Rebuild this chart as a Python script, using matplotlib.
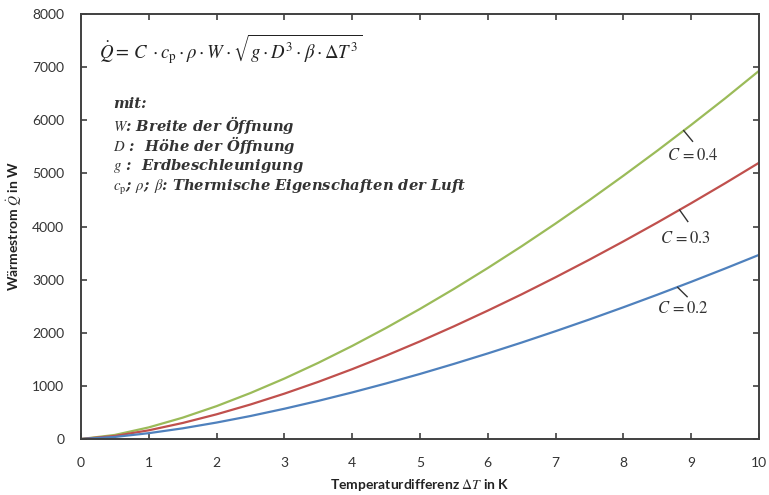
import matplotlib
matplotlib.use("Agg")
import matplotlib.pyplot as plt

dT = [0, 0.5, 1, 1.5, 2, 2.5, 3, 3.5, 4, 4.5, 5, 5.5, 6, 6.5, 7, 7.5, 8, 8.5, 9, 9.5, 10]
q_c04 = [0, 77, 219, 402, 619, 866, 1138, 1434, 1752, 2091, 2449, 2825, 3219, 3629, 4056, 4498, 4956, 5427, 5913, 6412, 6930]
q_c03 = [0, 58, 164, 302, 465, 650, 854, 1076, 1315, 1569, 1838, 2121, 2417, 2724, 3045, 3377, 3720, 4074, 4439, 4814, 5200]
q_c02 = [0, 39, 110, 201, 310, 433, 570, 718, 877, 1046, 1225, 1414, 1611, 1816, 2030, 2251, 2480, 2716, 2959, 3209, 3466]
x_ticks = [0, 1, 2, 3, 4, 5, 6, 7, 8, 9, 10]
y_ticks = [0, 1000, 2000, 3000, 4000, 5000, 6000, 7000, 8000]

plt.rcParams['mathtext.fontset'] = 'stix'
plt.rcParams['font.family'] = ['Lato', 'DejaVu Sans']

fig = plt.figure(figsize=(7.69, 4.95), dpi=100)
ax = fig.add_axes([0.1053, 0.1131, 0.8817, 0.8586])

ax.plot(dT, q_c04, color='#9BBB59', lw=1.6)
ax.plot(dT, q_c03, color='#C0504D', lw=1.6)
ax.plot(dT, q_c02, color='#4F81BD', lw=1.6)

ax.set_xlim(0, 10)
ax.set_ylim(0, 8000)
ax.set_xticks(x_ticks)
ax.set_yticks(y_ticks)
ax.tick_params(direction='in', top=True, right=True, length=4, width=1.2,
               color='#404040', labelsize=10, labelcolor='#333333')
ax.tick_params(axis='y', pad=12)
ax.tick_params(axis='x', pad=13)
for s in ax.spines.values():
    s.set_color('#404040')
    s.set_linewidth(1.4)

ax.set_xlabel(r'Temperaturdifferenz $\Delta T$ in K', fontsize=10, fontweight='bold',
              color='#222222', labelpad=6)
ax.set_ylabel(r'Wärmestrom $\dot{Q}$ in W', fontsize=10, fontweight='bold',
              color='#222222', labelpad=6)

# formula
ax.text(0.27, 7320, r'$\dot{Q}=\,C\;\cdot c_\mathrm{p}\cdot\rho\cdot W\cdot\sqrt{g\cdot D^3\cdot\beta\cdot\Delta T^3}$',
        fontsize=13.5, color='#222222', va='center', ha='left')

ser = ['DejaVu Serif']
lines = [
    'mit:',
    r'$W$: Breite der Öffnung',
    r'$D$ :  Höhe der Öffnung',
    r'$g$ :  Erdbeschleunigung',
    r'$c_\mathrm{p}$; $\rho$; $\beta$: Thermische Eigenschaften der Luft',
]
ys = [6300, 5920, 5530, 5130, 4740]
for t, y in zip(lines, ys):
    ax.text(0.47, y, t, fontsize=10.6, family=ser, style='italic', fontweight='bold',
            color='#333333', va='center', ha='left')

# curve labels
labels = [('$C\\,=0.4$', (8.89, 5805), (9.02, 5604), (9.02, 5340)),
          ('$C\\,=0.3$', (8.83, 4310), (8.95, 4094), (8.92, 3792)),
          ('$C\\,=0.2$', (8.80, 2855), (8.94, 2679), (8.88, 2472))]
for txt, p0, p1, pt in labels:
    ax.plot([p0[0], p1[0]], [p0[1], p1[1]], color='#333333', lw=1.0)
    ax.text(pt[0], pt[1], txt, fontsize=12, color='#333333', ha='center', va='center')

fig.savefig('out.png', dpi=100)
